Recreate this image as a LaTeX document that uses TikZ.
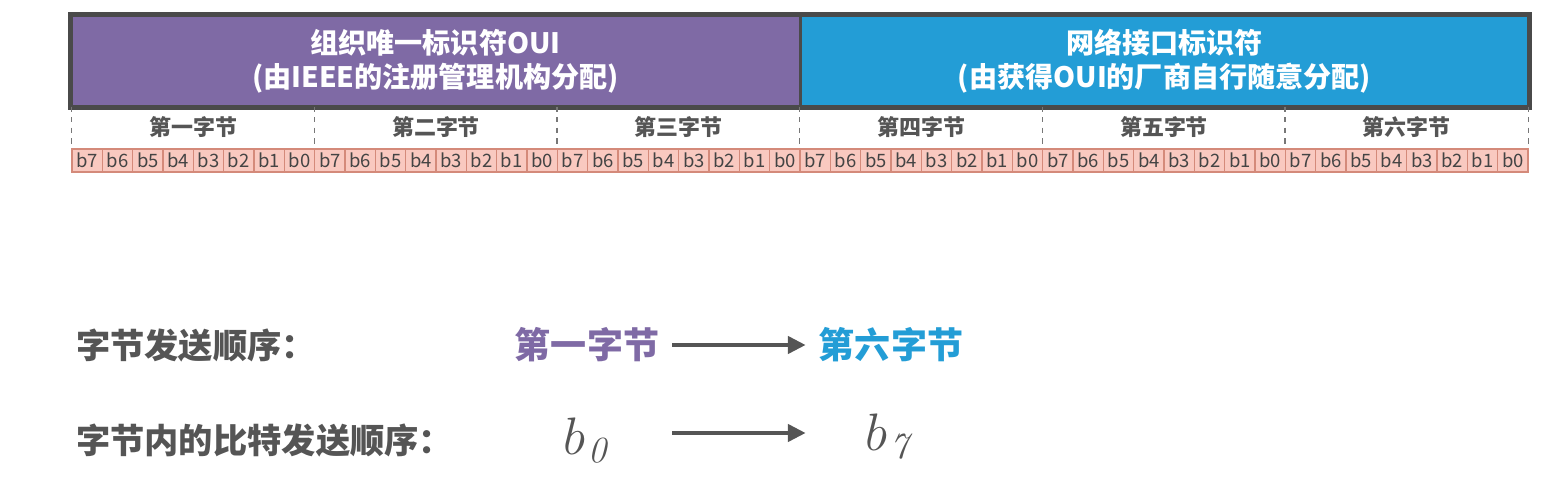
\documentclass[tikz,border=0pt]{standalone}
\usepackage{fix-cm}
\usepackage[no-math]{fontspec}
\setmainfont{Noto Sans CJK SC}
\usetikzlibrary{arrows.meta,positioning}
\definecolor{grape}{RGB}{127,106,165}
\definecolor{ocean}{RGB}{35,157,214}
\definecolor{frame}{RGB}{74,74,74}
\definecolor{ink}{RGB}{85,85,85}
\definecolor{salmon}{RGB}{249,201,192}
\definecolor{rust}{RGB}{212,138,122}
\tikzset{
  >={Triangle[length=3.6mm,width=3.4mm]},
  field/.style={fill=#1,text=white,minimum width=14.58cm,minimum height=1.84cm,
    inner sep=0pt,align=center,font=\fontsize{16}{19.5}\selectfont\bfseries},
  bytecell/.style={minimum width=4.853cm,minimum height=0.82cm,inner sep=0pt,
    text=ink,font=\fontsize{12.5}{14}\selectfont\bfseries},
  bitcell/.style={draw=rust,fill=salmon,line width=0.7pt,minimum width=0.6067cm,
    minimum height=0.46cm,inner sep=0pt,text=ink!80!black,font=\fontsize{10.5}{12}\selectfont},
  tag/.style={text=ink,font=\fontsize{19.5}{22}\selectfont\bfseries},
  byte/.style={text=#1,font=\fontsize{20.5}{24}\selectfont\bfseries},
  bitsym/.style={text=ink,font=\fontsize{30}{34}\selectfont},
  order/.style={->,line width=0.09cm,draw=ink,shorten <=0.14cm,shorten >=0.14cm},
  sep/.style={dashed,draw=ink!80,line width=0.8pt},
}
\begin{document}
\begin{tikzpicture}[x=0.02cm,y=-0.02cm]
  \useasboundingbox (0,0) rectangle (1546,496);
  % address fields
  \node[field=grape] (oui) at (435.5,61) {组织唯一标识符OUI\\(由IEEE的注册管理机构分配)};
  \node[field=ocean] (nic) at (1164.5,61) {网络接口标识符\\(由获得OUI的厂商自行随意分配)};
  \draw[frame,line width=0.1cm] (oui.north west) rectangle (nic.south east);
  \draw[frame,line width=0.06cm] (oui.north east) -- (oui.south east);
  % bytes
  \foreach \i/\t in {1/第一字节,2/第二字节,3/第三字节,4/第四字节,5/第五字节,6/第六字节}
    \node[bytecell] (byte\i) at ({72+(\i-0.5)*242.67},127.5) {\t};
  \foreach \i in {1,...,6}
    \draw[sep] (byte\i.north west) -- (byte\i.south west);
  \draw[sep] (byte6.north east) -- (byte6.south east);
  % bits
  \foreach \i in {1,...,6}
    \foreach \b [count=\k] in {7,6,...,0}
      \node[bitcell] (bit\i-\b) at ({72+(\i-1)*242.67+(\k-0.5)*30.33},160.5) {b\b};
  % sending order
  \node[tag,anchor=west] (byteorder) at (70,345) {字节发送顺序：};
  \node[byte=grape] (first) at (587,345) {第一字节};
  \node[byte=ocean] (sixth) at (891,345) {第六字节};
  \draw[order] (first) -- (sixth);
  \node[tag,anchor=west] (bitorder) at (70,440) {字节内的比特发送顺序：};
  \node[bitsym] (b0) at (588,440) {$b_{\mkern1mu\mathit{0}}$};
  \node[bitsym] (b7) at (890,440) {$b_{\mkern1mu\mathit{7}}$};
  \draw[order] (first.east |- 0,433) -- (sixth.west |- 0,433);
\end{tikzpicture}
\end{document}
